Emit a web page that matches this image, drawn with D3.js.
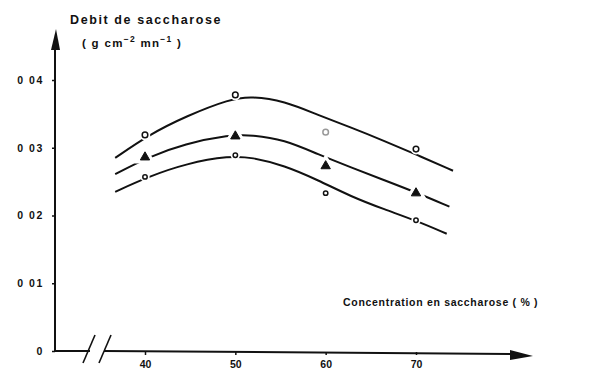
<!DOCTYPE html>
<html>
<head>
<meta charset="utf-8">
<script src="https://cdn.jsdelivr.net/npm/d3@7"></script>
<style>
  html, body { margin: 0; padding: 0; background: #fff; }
  svg text { font-family: "Liberation Sans", Arial, sans-serif; font-weight: bold; fill: #111; }
</style>
</head>
<body>
<svg id="chart" width="599" height="374"></svg>
<script>
// Concentrations where measurements were taken (%)
const concentrations = [40, 50, 60, 70];

// Measured sucrose flux (g cm-2 mn-1), three series
const seriesCircle = [0.0319, 0.0378, 0.0323, 0.0298];
const seriesTriangle = [0.0286, 0.0317, 0.0273, 0.0233];
const seriesSmallCircle = [0.0257, 0.0289, 0.0233, 0.0193];

// Hand-fitted trend curves (concentration, flux)
const curveCircleX = [36.7, 40.4, 44.6, 49.4, 51.8, 55.4, 59.2, 62.8, 66.5, 70.2, 74.1];
const curveCircleY = [0.0285, 0.0319, 0.0347, 0.0372, 0.0376, 0.0369, 0.0348, 0.0330, 0.0310, 0.0289, 0.0266];
const curveTriangleX = [36.7, 40.3, 44.4, 49.4, 51.8, 55.4, 59.2, 62.8, 66.5, 70.2, 73.7];
const curveTriangleY = [0.0261, 0.0286, 0.0306, 0.0319, 0.0319, 0.0312, 0.0290, 0.0271, 0.0252, 0.0233, 0.0213];
const curveSmallX = [36.7, 40.3, 44.6, 49.4, 51.8, 55.4, 59.2, 62.8, 66.5, 70.1, 73.4];
const curveSmallY = [0.0235, 0.0257, 0.0277, 0.0288, 0.0286, 0.0274, 0.0252, 0.0228, 0.0209, 0.0192, 0.0173];

// Axis ticks
const yTickValues = [0, 0.01, 0.02, 0.03, 0.04];
const yTickLabels = ["0", "0 01", "0 02", "0 03", "0 04"];
const xTickValues = [40, 50, 60, 70];
const xTickLabels = ["40", "50", "60", "70"];

const svg = d3.select("#chart");

const x = d3.scaleLinear().domain([40, 70]).range([145, 416]);
const y = d3.scaleLinear().domain([0, 0.04]).range([351, 80]);

const x0 = 55;          // y-axis position
const yBase = y(0);     // x-axis position

// ---- Y axis with arrow
svg.append("line")
  .attr("x1", x0).attr("x2", x0)
  .attr("y1", yBase).attr("y2", 46)
  .attr("stroke", "#111").attr("stroke-width", 2);
svg.append("path")
  .attr("d", `M${x0 + 1},29 L${x0 + 5},50 L${x0 - 4},50 Z`)
  .attr("fill", "#111");

const yAxis = d3.axisLeft(y)
  .tickValues(yTickValues)
  .tickSize(3)
  .tickPadding(8)
  .tickFormat((d, i) => yTickLabels[i]);
const gy = svg.append("g").attr("transform", `translate(${x0},0)`).call(yAxis);
gy.select(".domain").remove();
gy.selectAll(".tick line").attr("stroke", "#111").attr("stroke-width", 1.5);
gy.selectAll(".tick text")
  .style("font-size", "10.5px")
  .style("letter-spacing", "1.6px")
  .attr("fill", "#111");

// ---- X axis with break and arrow
svg.append("line")
  .attr("x1", x0).attr("x2", 90)
  .attr("y1", yBase).attr("y2", yBase)
  .attr("stroke", "#111").attr("stroke-width", 2);
svg.append("line")
  .attr("x1", 104).attr("x2", 514)
  .attr("y1", yBase).attr("y2", yBase + 3)
  .attr("stroke", "#111").attr("stroke-width", 2);
svg.append("path")
  .attr("d", `M533,${yBase + 5} L510,${yBase - 1} L510,${yBase + 9} Z`)
  .attr("fill", "#111");
// break marks
[[83, 95], [99, 111]].forEach(([a, b]) => {
  svg.append("line")
    .attr("x1", a).attr("y1", yBase + 12)
    .attr("x2", b).attr("y2", yBase - 16)
    .attr("stroke", "#111").attr("stroke-width", 1.6);
});

const xAxis = d3.axisBottom(x)
  .tickValues(xTickValues)
  .tickSize(3)
  .tickPadding(6)
  .tickFormat((d, i) => xTickLabels[i]);
const gx = svg.append("g").attr("transform", `translate(0,${yBase + 1})`).call(xAxis);
gx.select(".domain").remove();
gx.selectAll(".tick line").attr("stroke", "#111").attr("stroke-width", 1.5);
gx.selectAll(".tick text")
  .style("font-size", "10.5px")
  .attr("fill", "#111");

// ---- Titles
svg.append("text")
  .attr("x", 70).attr("y", 24)
  .style("font-size", "12.5px")
  .style("letter-spacing", "1.6px")
  .text("Debit de saccharose");

const unit = svg.append("text")
  .attr("x", 82).attr("y", 47)
  .style("font-size", "11.5px")
  .style("letter-spacing", "1.3px");
unit.append("tspan").text("( g cm");
unit.append("tspan").attr("dy", -5).style("font-size", "8.5px").text("−2");
unit.append("tspan").attr("dy", 5).text(" mn");
unit.append("tspan").attr("dy", -5).style("font-size", "8.5px").text("−1");
unit.append("tspan").attr("dy", 5).text(" )");

svg.append("text")
  .attr("x", 343).attr("y", 306)
  .style("font-size", "10.5px")
  .style("letter-spacing", "0.7px")
  .text("Concentration  en  saccharose ( % )");

// ---- Trend curves
const line = d3.line()
  .x(d => x(d[0]))
  .y(d => y(d[1]))
  .curve(d3.curveBasis);

[[curveCircleX, curveCircleY], [curveTriangleX, curveTriangleY], [curveSmallX, curveSmallY]]
  .forEach(([xs, ys]) => {
    svg.append("path")
      .datum(xs.map((v, i) => [v, ys[i]]))
      .attr("d", line)
      .attr("fill", "none")
      .attr("stroke", "#111")
      .attr("stroke-width", 2);
  });

// ---- Markers (white halo cuts the curve around each point)
const circleColors = ["#111", "#111", "#999", "#111"];
concentrations.forEach((c, i) => {
  svg.append("circle")
    .attr("cx", x(c)).attr("cy", y(seriesCircle[i])).attr("r", 2.8)
    .attr("fill", "#fff").attr("stroke", "#fff").attr("stroke-width", 5);
  svg.append("circle")
    .attr("cx", x(c)).attr("cy", y(seriesCircle[i])).attr("r", 2.8)
    .attr("fill", "#fff").attr("stroke", circleColors[i]).attr("stroke-width", 1.5);
});

const tri = d3.symbol().type(d3.symbolTriangle).size(38);
concentrations.forEach((c, i) => {
  const g = svg.append("g").attr("transform", `translate(${x(c)},${y(seriesTriangle[i])})`);
  g.append("path").attr("d", tri()).attr("fill", "#fff").attr("stroke", "#fff").attr("stroke-width", 7);
  g.append("path").attr("d", tri()).attr("fill", "#111").attr("stroke", "#111").attr("stroke-width", 1).attr("stroke-linejoin", "round");
});

concentrations.forEach((c, i) => {
  svg.append("circle")
    .attr("cx", x(c)).attr("cy", y(seriesSmallCircle[i])).attr("r", 2.2)
    .attr("fill", "#fff").attr("stroke", "#fff").attr("stroke-width", 5);
  svg.append("circle")
    .attr("cx", x(c)).attr("cy", y(seriesSmallCircle[i])).attr("r", 2.2)
    .attr("fill", "#fff").attr("stroke", "#111").attr("stroke-width", 1.5);
});
</script>
</body>
</html>
